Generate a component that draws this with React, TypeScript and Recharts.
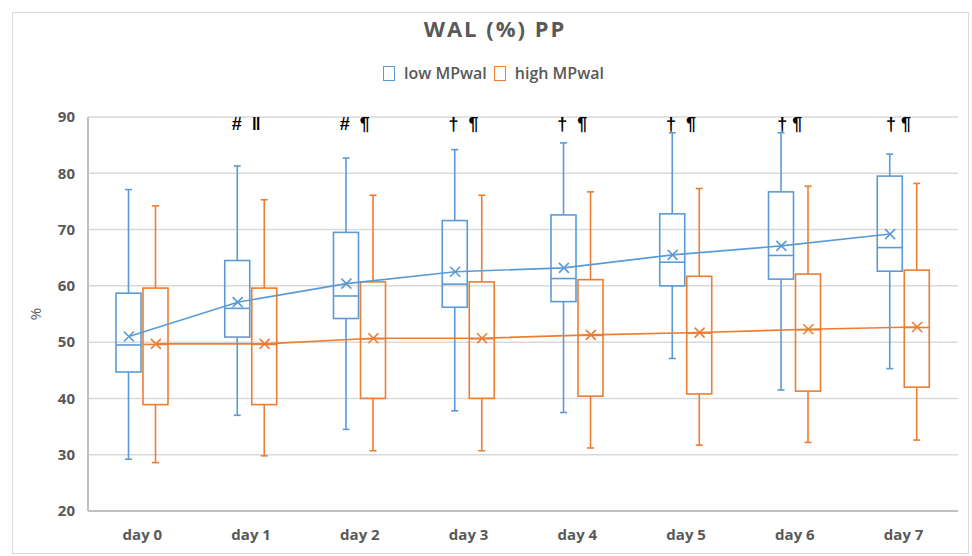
import React from 'react';
import { ComposedChart, Bar, Line, Scatter, XAxis, YAxis, CartesianGrid } from 'recharts';

// Categories and tick labels
const days = ['day 0', 'day 1', 'day 2', 'day 3', 'day 4', 'day 5', 'day 6', 'day 7'];
const yTicks = [20, 30, 40, 50, 60, 70, 80, 90];

// low MPwal box statistics
const lowMin = [29.2, 37.0, 34.5, 37.8, 37.5, 47.1, 41.5, 45.3];
const lowQ1 = [44.7, 50.9, 54.2, 56.2, 57.2, 60.0, 61.2, 62.6];
const lowMedian = [49.5, 56.0, 58.2, 60.3, 61.3, 64.2, 65.4, 66.8];
const lowQ3 = [58.7, 64.5, 69.5, 71.6, 72.6, 72.8, 76.7, 79.5];
const lowMax = [77.1, 81.3, 82.7, 84.2, 85.4, 87.2, 87.2, 83.4];
const lowMean = [51.0, 57.1, 60.4, 62.5, 63.2, 65.5, 67.1, 69.2];

// high MPwal box statistics
const highMin = [28.6, 29.8, 30.7, 30.7, 31.2, 31.7, 32.2, 32.6];
const highQ1 = [38.9, 38.9, 40.0, 40.0, 40.4, 40.8, 41.3, 42.0];
const highMedian = [49.6, 49.6, 50.6, 50.6, 51.2, 51.6, 52.2, 52.6];
const highQ3 = [59.6, 59.6, 60.7, 60.7, 61.1, 61.7, 62.1, 62.8];
const highMax = [74.2, 75.3, 76.1, 76.1, 76.7, 77.3, 77.7, 78.2];
const highMean = [49.7, 49.7, 50.7, 50.7, 51.3, 51.7, 52.3, 52.7];

// Significance markers above each day
const marks = ['', '#  \u2016', '#  \u00b6', '\u2020  \u00b6', '\u2020  \u00b6', '\u2020  \u00b6', '\u2020 \u00b6', '\u2020 \u00b6'];

const BLUE = '#5B9BD5';
const ORANGE = '#ED7D31';
const GREY_TEXT = '#595959';
const FONT = '"Open Sans", "Noto Sans", sans-serif';

const CHART_W = 972;
const CHART_H = 556;
const MARGIN = { top: 117, right: 14, bottom: 15, left: 38 };
const Y_AXIS_W = 50;
const BAR_W = 25;
const BAR_GAP = 2;
const BAND = (CHART_W - MARGIN.left - Y_AXIS_W - MARGIN.right) / days.length;
// horizontal distance (in category units) from a day's centre to each box centre
const SHIFT = (BAR_W + BAR_GAP) / 2 / BAND;
const MARK_LEVEL = 88.7;

type Stats = { min: number; q1: number; med: number; q3: number; max: number };

const rows = days.map((day, i) => ({
  day,
  x: i,
  lowRange: [lowMin[i], lowMax[i]],
  highRange: [highMin[i], highMax[i]],
}));

const lowStats: Stats[] = days.map((_, i) => ({ min: lowMin[i], q1: lowQ1[i], med: lowMedian[i], q3: lowQ3[i], max: lowMax[i] }));
const highStats: Stats[] = days.map((_, i) => ({ min: highMin[i], q1: highQ1[i], med: highMedian[i], q3: highQ3[i], max: highMax[i] }));

const lowMeanPts = days.map((_, i) => ({ x: i - SHIFT, mean: lowMean[i] }));
const highMeanPts = days.map((_, i) => ({ x: i + SHIFT, mean: highMean[i] }));
const markPts = marks.map((m, i) => ({ x: i, y: MARK_LEVEL, m }));

// Box-and-whisker drawn inside the [min, max] range bar
const makeBox = (stats: Stats[], color: string) => (props: any) => {
  const { x, y, width, height, payload } = props;
  const s = stats[payload.x];
  const top = Math.min(y, y + height);
  const bottom = Math.max(y, y + height);
  const py = (v: number) => bottom - ((v - s.min) / (s.max - s.min)) * (bottom - top);
  const cx = x + width / 2;
  const cap = 3.5;
  return (
    <g stroke={color} strokeWidth={1.6} fill="none">
      <line x1={cx} x2={cx} y1={py(s.max)} y2={py(s.q3)} />
      <line x1={cx} x2={cx} y1={py(s.q1)} y2={py(s.min)} />
      <line x1={cx - cap} x2={cx + cap} y1={py(s.max)} y2={py(s.max)} />
      <line x1={cx - cap} x2={cx + cap} y1={py(s.min)} y2={py(s.min)} />
      <rect x={x} y={py(s.q3)} width={width} height={py(s.q1) - py(s.q3)} />
      <line x1={x} x2={x + width} y1={py(s.med)} y2={py(s.med)} />
    </g>
  );
};

const lowBox = makeBox(lowStats, BLUE);
const highBox = makeBox(highStats, ORANGE);

const makeCross = (color: string) => (p: any) => {
  const r = 5;
  return (
    <path
      key={`cross-${color}-${p.index}`}
      d={`M${p.cx - r},${p.cy - r}L${p.cx + r},${p.cy + r}M${p.cx - r},${p.cy + r}L${p.cx + r},${p.cy - r}`}
      stroke={color}
      strokeWidth={1.6}
      fill="none"
    />
  );
};

const MarkText = (props: any) => {
  const { cx, cy, payload } = props;
  if (!payload.m) return <g />;
  return (
    <text
      x={cx - 5}
      y={cy}
      textAnchor="middle"
      dominantBaseline="central"
      fontFamily='"Liberation Sans", Arial, sans-serif'
      fontWeight={700}
      fontSize={18}
      fill="#000"
      style={{ whiteSpace: 'pre' }}
    >
      {payload.m}
    </text>
  );
};

const PercentLabel = (props: any) => {
  const { viewBox } = props;
  const x = viewBox.x - 3;
  const y = viewBox.y + viewBox.height / 2;
  return (
    <text x={x} y={y} transform={`rotate(-90 ${x} ${y})`} textAnchor="middle" dominantBaseline="central"
      fontFamily={FONT} fontSize={15} fill={GREY_TEXT}>
      %
    </text>
  );
};

const LegendItem = ({ color, label }: { color: string; label: string }) => (
  <span style={{ display: 'inline-flex', alignItems: 'center', marginRight: 7 }}>
    <span style={{ display: 'inline-block', width: 10, height: 13, border: `1.5px solid ${color}`, marginRight: 9 }} />
    <span>{label}</span>
  </span>
);

export default function App() {
  return (
    <div style={{ position: 'absolute', left: 0, top: 0, width: CHART_W, height: CHART_H, background: '#fff' }}>
      <div style={{ position: 'absolute', left: 12, top: 12, width: 955, height: 540, border: '1px solid #d9d9d9' }} />
      <div style={{ position: 'absolute', left: 0, top: 13, width: 990, textAlign: 'center', fontFamily: FONT,
        fontWeight: 700, fontSize: 22, letterSpacing: 2, color: GREY_TEXT }}>
        WAL (%) PP
      </div>
      <div style={{ position: 'absolute', left: 0, top: 62, width: 994, textAlign: 'center', fontFamily: FONT,
        fontSize: 16, fontWeight: 600, color: GREY_TEXT, display: 'flex', justifyContent: 'center' }}>
        <LegendItem color={BLUE} label="low MPwal" />
        <LegendItem color={ORANGE} label="high MPwal" />
      </div>
      <div style={{ position: 'absolute', left: 0, top: 0 }}>
        <ComposedChart width={CHART_W} height={CHART_H} data={rows} margin={MARGIN} barGap={BAR_GAP}>
          <CartesianGrid vertical={false} stroke="#d9d9d9" strokeWidth={1.5} />
          <XAxis dataKey="day" axisLine={{ stroke: '#bfbfbf', strokeWidth: 2 }} tickLine={false} tickSize={10} tickMargin={8}
            tick={{ fill: GREY_TEXT, fontSize: 15, fontWeight: 700, fontFamily: FONT }} interval={0} />
          <XAxis xAxisId="num" type="number" dataKey="x" domain={[-0.5, days.length - 0.5]} hide allowDataOverflow />
          <YAxis domain={[20, 90]} ticks={yTicks} width={Y_AXIS_W} axisLine={{ stroke: '#bfbfbf', strokeWidth: 2 }}
            tickLine={false} tickSize={8} tickMargin={5} allowDataOverflow
            tick={{ fill: GREY_TEXT, fontSize: 15, fontWeight: 700, fontFamily: FONT }}
            label={<PercentLabel />} />
          <Bar dataKey="lowRange" barSize={BAR_W} shape={lowBox} isAnimationActive={false} />
          <Bar dataKey="highRange" barSize={BAR_W} shape={highBox} isAnimationActive={false} />
          <Line xAxisId="num" data={lowMeanPts} dataKey="mean" stroke={BLUE} strokeWidth={1.6}
            dot={makeCross(BLUE)} activeDot={false} isAnimationActive={false} />
          <Line xAxisId="num" data={highMeanPts} dataKey="mean" stroke={ORANGE} strokeWidth={1.6}
            dot={makeCross(ORANGE)} activeDot={false} isAnimationActive={false} />
          <Scatter xAxisId="num" data={markPts} dataKey="y" shape={MarkText} isAnimationActive={false} />
        </ComposedChart>
      </div>
    </div>
  );
}
